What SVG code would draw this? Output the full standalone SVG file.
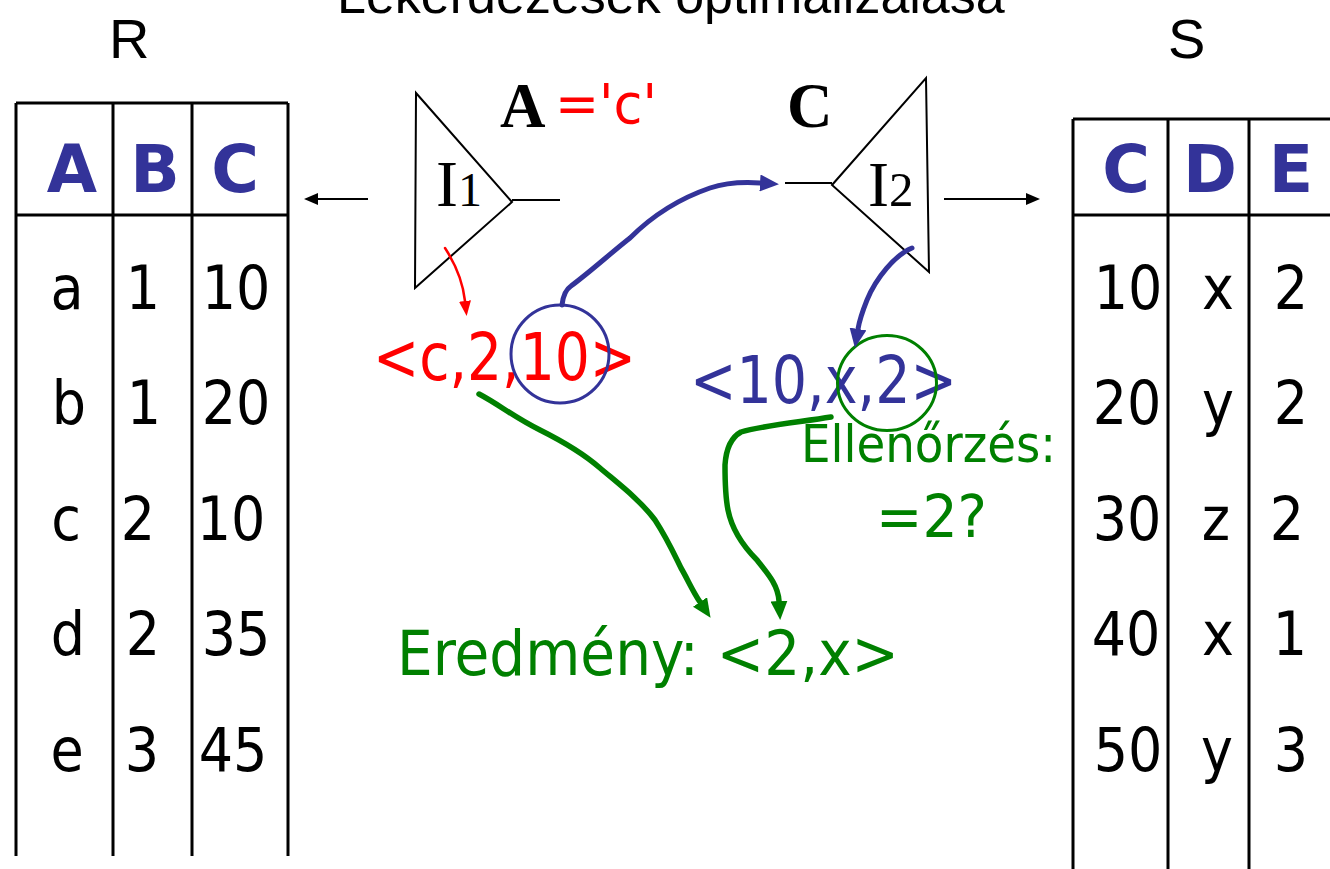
<svg xmlns="http://www.w3.org/2000/svg" width="1330" height="869" viewBox="0 0 1330 869">
<style>
.bg{fill:#ffffff}
.grid{stroke:#000;stroke-width:3;fill:none}
.tri{stroke:#000;stroke-width:2;fill:none}
.lbl{font-family:"Liberation Sans",Arial,sans-serif;fill:#000}
.v{font-family:"DejaVu Sans Condensed","DejaVu Sans",sans-serif;font-stretch:condensed;font-size:60px;fill:#000;text-anchor:middle}
.hd{font-family:"DejaVu Sans",sans-serif;font-weight:bold;font-size:65px;fill:#333399;text-anchor:middle}
.sf{font-family:"Liberation Serif","Times New Roman",serif;fill:#000}
.tp{font-family:"DejaVu Sans Condensed","DejaVu Sans",sans-serif;font-stretch:condensed}
.red{fill:#ff0000}
.blue{fill:#333399}
.green{fill:#008000}
.cb{stroke:#333399;stroke-width:5;fill:none;stroke-linecap:round;stroke-linejoin:round}
.cg{stroke:#008000;stroke-width:5.5;fill:none;stroke-linecap:round;stroke-linejoin:round}
.cr{stroke:#ff0000;stroke-width:2.5;fill:none;stroke-linecap:round}
.ck{stroke:#000;stroke-width:2;fill:none}
</style>
<defs>
<marker id="ak" markerUnits="userSpaceOnUse" viewBox="0 0 14 12" refX="0" refY="6" markerWidth="14" markerHeight="12" orient="auto"><path d="M0,0 L14,6 L0,12 z" fill="#000"/></marker>
<marker id="ar" markerUnits="userSpaceOnUse" viewBox="0 0 15 12" refX="0" refY="6" markerWidth="15" markerHeight="12" orient="auto"><path d="M0,0 L15,6 L0,12 z" fill="#ff0000"/></marker>
<marker id="ab" markerUnits="userSpaceOnUse" viewBox="0 0 19 17" refX="0" refY="8.5" markerWidth="19" markerHeight="17" orient="auto"><path d="M0,0 L19,8.5 L0,17 z" fill="#333399"/></marker>
<marker id="ag" markerUnits="userSpaceOnUse" viewBox="0 0 19 17" refX="0" refY="8.5" markerWidth="19" markerHeight="17" orient="auto"><path d="M0,0 L19,8.5 L0,17 z" fill="#008000"/></marker>
</defs>
<rect class="bg" x="0" y="0" width="1330" height="869"/>

<g id="title"><text class="lbl" x="337" y="13" font-size="52">Lekérdezések optimalizálása</text></g>

<g id="table-R">
<text class="lbl" x="109" y="58" font-size="56">R</text>
<path class="grid" d="M16,103 H288 M16,215 H288 M16,103 V856 M113,103 V856 M192,103 V856 M288,103 V856"/>
<text class="hd" x="72" y="192">A</text>
<text class="hd" x="155" y="192">B</text>
<text class="hd" x="235" y="192">C</text>
<text class="v" x="67" y="309">a</text><text class="v" x="143" y="309">1</text><text class="v" x="236" y="309">10</text>
<text class="v" x="69" y="424">b</text><text class="v" x="144" y="424">1</text><text class="v" x="236" y="424">20</text>
<text class="v" x="66" y="540">c</text><text class="v" x="138" y="540">2</text><text class="v" x="231" y="540">10</text>
<text class="v" x="68" y="655">d</text><text class="v" x="143" y="655">2</text><text class="v" x="236" y="655">35</text>
<text class="v" x="67" y="771">e</text><text class="v" x="142" y="771">3</text><text class="v" x="233" y="771">45</text>
</g>

<g id="table-S">
<text class="lbl" x="1168" y="58" font-size="56">S</text>
<path class="grid" d="M1073,119 H1330 M1073,215 H1330 M1073,119 V869 M1168,119 V869 M1249,119 V869"/>
<text class="hd" x="1126" y="192">C</text>
<text class="hd" x="1210" y="192">D</text>
<text class="hd" x="1291" y="192">E</text>
<text class="v" x="1128" y="309">10</text><text class="v" x="1218" y="309">x</text><text class="v" x="1291" y="309">2</text>
<text class="v" x="1127" y="424">20</text><text class="v" x="1218" y="424">y</text><text class="v" x="1291" y="424">2</text>
<text class="v" x="1127" y="540">30</text><text class="v" x="1216" y="540">z</text><text class="v" x="1287" y="540">2</text>
<text class="v" x="1126" y="655">40</text><text class="v" x="1218" y="655">x</text><text class="v" x="1290" y="655">1</text>
<text class="v" x="1128" y="771">50</text><text class="v" x="1217" y="771">y</text><text class="v" x="1291" y="771">3</text>
</g>

<g id="index-I1">
<path class="tri" d="M416,93 L415,288 L512,202 Z"/>
<text class="sf" x="436" y="206" font-size="66">I<tspan font-size="48">1</tspan></text>
<text class="sf" x="500" y="127" font-size="63" font-weight="bold">A</text>
<text class="tp red" x="555" y="123" font-size="56" textLength="102" lengthAdjust="spacingAndGlyphs">='c'</text>
</g>

<g id="index-I2">
<path class="tri" d="M926,78 L929,272 L832,185 Z"/>
<text class="sf" x="868" y="206" font-size="63">I<tspan font-size="49">2</tspan></text>
<text class="sf" x="787" y="127" font-size="63" font-weight="bold">C</text>
</g>

<g id="tuple-R">
<text class="tp red" x="373" y="380" font-size="65" textLength="263" lengthAdjust="spacingAndGlyphs">&lt;c,2,10&gt;</text>
<ellipse cx="560" cy="354" rx="49" ry="49" fill="none" stroke="#333399" stroke-width="3"/>
</g>

<g id="tuple-S">
<text class="tp blue" x="690" y="403" font-size="65" textLength="267" lengthAdjust="spacingAndGlyphs">&lt;10,x,2&gt;</text>
<ellipse cx="887" cy="383" rx="49.5" ry="47.5" fill="none" stroke="#008000" stroke-width="3"/>
</g>

<g id="check">
<text class="tp green" x="801" y="462" font-size="52" textLength="255" lengthAdjust="spacingAndGlyphs">Ellenőrzés:</text>
<text class="tp green" x="876" y="537" font-size="58" textLength="111" lengthAdjust="spacingAndGlyphs">=2?</text>
</g>

<g id="result">
<text class="tp green" x="397" y="675" font-size="63" textLength="502" lengthAdjust="spacingAndGlyphs">Eredmény: &lt;2,x&gt;</text>
</g>

<g id="connectors">
<path class="ck" d="M368,199 H318" marker-end="url(#ak)"/>
<path class="ck" d="M512,200 H560"/>
<path class="ck" d="M785,183 H832"/>
<path class="ck" d="M944,199 H1026" marker-end="url(#ak)"/>
<path class="cr" d="M445,248 C456,265 463,283 465,301" marker-end="url(#ar)"/>
<path class="cb" d="M562,305 C563,296 565,290 571,286 C590,272 612,252 630,238 C650,218 675,200 710,188 C728,182 745,182 760,183" marker-end="url(#ab)"/>
<path class="cb" d="M912,248 C895,255 876,278 867,300 C861,315 859,323 858,329" marker-end="url(#ab)"/>
<path class="cg" d="M479,394 C500,405 515,418 540,430 C560,440 585,455 600,468 C620,485 640,500 655,520 C668,540 675,556 681,568 C688,580 692,590 700,602" marker-end="url(#ag)"/>
<path class="cg" d="M831,417 C800,422 760,426 741,432 C730,438 726,450 725,465 C725,480 726,500 728,510 C732,530 745,548 757,560 C768,574 778,585 779,601" marker-end="url(#ag)"/>
</g>
</svg>
